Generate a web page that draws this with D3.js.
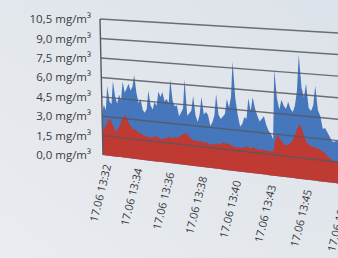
<!DOCTYPE html>
<html>
<head>
<meta charset="utf-8">
<script src="https://cdn.jsdelivr.net/npm/d3@7/dist/d3.min.js"></script>
<style>
  html, body { margin: 0; padding: 0; }
  body { width: 338px; height: 258px; overflow: hidden; }
  text { font-family: "Open Sans", Lato, sans-serif; fill: #3a3a3e; }
</style>
</head>
<body>
<div id="chart"></div>
<script>
// tick labels along the time axis (one label every 16 samples)
var tickLabels = ["17.06 13:32", "17.06 13:34", "17.06 13:36", "17.06 13:38",
                  "17.06 13:40", "17.06 13:43", "17.06 13:45", "17.06 13:47"];
var yTicks = [0, 1.5, 3, 4.5, 6, 7.5, 9, 10.5];

// blue series (upper, spiky)
var dustTotal = [3.2, 3.9, 3.5, 5.4, 4.2, 4.0, 5.8, 4.6, 4.1, 4.8,
                 4.4, 5.8, 5.0, 5.3, 5.7, 5.2, 5.5, 6.4, 5.0, 4.3,
                 4.6, 3.8, 3.6, 3.9, 5.3, 4.2, 3.9, 4.5, 4.2, 5.3,
                 4.9, 5.3, 4.6, 4.8, 4.5, 6.3, 4.7, 4.3, 4.4, 3.6,
                 3.9, 4.2, 6.4, 3.7, 3.9, 4.1, 5.2, 3.8, 3.3, 3.9,
                 5.2, 3.9, 4.1, 3.9, 3.1, 3.4, 3.9, 5.5, 4.0, 3.7,
                 3.9, 4.1, 5.2, 4.6, 5.4, 8.0, 5.3, 4.1, 3.3, 3.5,
                 4.0, 3.9, 5.4, 4.5, 5.5, 4.7, 4.2, 3.8, 4.0, 4.2,
                 3.6, 3.2, 3.0, 2.6, 7.6, 5.6, 4.8, 5.5, 5.1, 4.9,
                 5.4, 4.9, 4.7, 5.2, 6.3, 8.8, 6.5, 5.8, 6.8, 5.1,
                 4.9, 5.3, 6.7, 5.0, 4.6, 3.7, 3.8, 3.5, 3.2, 2.9,
                 2.9, 3.0, 2.8, 2.9, 3.1, 3.0];

// red series (lower)
var dustFine = [1.8, 2.1, 2.4, 2.7, 2.9, 2.6, 2.2, 1.9, 2.1, 2.4,
                2.8, 3.1, 3.3, 3.0, 2.6, 2.4, 2.2, 2.3, 2.1, 2.0,
                2.0, 1.9, 1.8, 1.9, 1.7, 1.8, 1.8, 1.9, 1.9, 1.8,
                1.7, 1.8, 1.8, 1.9, 2.0, 1.9, 1.9, 2.0, 2.0, 2.1,
                2.2, 2.3, 2.4, 2.3, 2.1, 2.0, 1.9, 1.9, 1.85, 1.9,
                1.9, 1.8, 1.9, 1.8, 1.7, 1.8, 1.8, 1.9, 1.8, 1.9,
                2.0, 1.9, 2.0, 1.9, 1.8, 1.8, 1.7, 1.8, 1.7, 1.8,
                1.8, 1.9, 1.8, 1.8, 1.9, 1.8, 1.8, 1.7, 1.8, 1.8,
                1.7, 1.8, 1.7, 1.8, 2.6, 3.0, 2.7, 2.5, 2.3, 2.3,
                2.4, 2.5, 2.8, 3.2, 3.6, 3.9, 3.5, 3.0, 2.6, 2.5,
                2.4, 2.4, 2.3, 2.3, 2.2, 2.1, 2.0, 1.8, 1.7, 1.6,
                1.5, 1.5, 1.4, 1.4, 1.4, 1.4];

var width = 338, height = 258;
var PW = 275, PH = 136;       // flat plot size before the photo perspective
var perSlot = 16;             // samples per tick label
var nSlots = 8;

var svg = d3.select("#chart").append("svg")
    .attr("width", width)
    .attr("height", height);

var defs = svg.append("defs");
var bg = defs.append("linearGradient")
    .attr("id", "bg")
    .attr("x1", 0).attr("y1", 1).attr("x2", 1).attr("y2", 0);
bg.append("stop").attr("offset", 0).style("stop-color", "#e9ecf0");
bg.append("stop").attr("offset", 1).style("stop-color", "#dce2e9");
svg.append("rect").attr("width", width).attr("height", height).attr("fill", "url(#bg)");

var x = d3.scaleLinear().domain([0, perSlot * nSlots]).range([0, PW]);
var y = d3.scaleLinear().domain([0, 10.5]).range([PH, 0]);

// the screen was photographed at an angle: map the flat plot onto this quad
var quad = [[100, 19], [376, 35.2], [378, 188.3], [103, 155]];
var H = squareToQuad(quad);
function proj(u, v) {
    var s = u / PW, t = v / PH;
    var w = H.g * s + H.h * t + 1;
    return [(H.a * s + H.b * t + H.c) / w, (H.d * s + H.e * t + H.f) / w];
}
function squareToQuad(q) {
    var x0 = q[0][0], y0 = q[0][1], x1 = q[1][0], y1 = q[1][1],
        x2 = q[2][0], y2 = q[2][1], x3 = q[3][0], y3 = q[3][1];
    var dx1 = x1 - x2, dx2 = x3 - x2, dx3 = x0 - x1 + x2 - x3;
    var dy1 = y1 - y2, dy2 = y3 - y2, dy3 = y0 - y1 + y2 - y3;
    var den = dx1 * dy2 - dx2 * dy1;
    var g = (dx3 * dy2 - dx2 * dy3) / den;
    var h = (dx1 * dy3 - dx3 * dy1) / den;
    return {
        a: x1 - x0 + g * x1, b: x3 - x0 + h * x3, c: x0,
        d: y1 - y0 + g * y1, e: y3 - y0 + h * y3, f: y0,
        g: g, h: h
    };
}

function areaFor(values) {
    return d3.area()
        .x0(function (d, i) { return proj(x(i), y(0))[0]; })
        .y0(function (d, i) { return proj(x(i), y(0))[1]; })
        .x1(function (d, i) { return proj(x(i), y(d))[0]; })
        .y1(function (d, i) { return proj(x(i), y(d))[1]; })(values);
}

var plot = svg.append("g");

plot.append("path")
    .attr("d", areaFor(dustTotal))
    .attr("fill", "#4677bd");

plot.append("path")
    .attr("d", areaFor(dustFine))
    .attr("fill", "#bf3a33");

// gridlines
plot.selectAll(".grid")
    .data(yTicks.slice(1))
    .enter().append("line")
    .attr("class", "grid")
    .attr("x1", function (d) { return proj(0, y(d))[0]; })
    .attr("y1", function (d) { return proj(0, y(d))[1]; })
    .attr("x2", function (d) { return proj(PW, y(d))[0]; })
    .attr("y2", function (d) { return proj(PW, y(d))[1]; })
    .attr("stroke", "#55585f")
    .attr("stroke-opacity", 0.85)
    .attr("stroke-width", 1.4);

// left axis
var a0 = proj(0, 0), a1 = proj(0, PH);
plot.append("line")
    .attr("x1", a0[0]).attr("y1", a0[1])
    .attr("x2", a1[0]).attr("y2", a1[1])
    .attr("stroke", "#55585f")
    .attr("stroke-width", 1.4);

// y labels
svg.selectAll(".ylab")
    .data(yTicks)
    .enter().append("text")
    .attr("class", "ylab")
    .attr("x", 91)
    .attr("y", function (d) { return proj(0, y(d))[1]; })
    .attr("dy", "0.35em")
    .attr("text-anchor", "end")
    .style("font-size", "11.5px")
    .text(function (d) { return d.toFixed(1).replace(".", ",") + " mg/m\u00b3"; });

// x labels
svg.selectAll(".xlab")
    .data(tickLabels)
    .enter().append("text")
    .attr("class", "xlab")
    .attr("transform", function (d, i) {
        var p = proj(x(i * perSlot) + 5, PH + 9);
        return "translate(" + p[0] + "," + p[1] + ") rotate(-76)";
    })
    .attr("dy", "0.35em")
    .attr("text-anchor", "end")
    .style("font-size", "11px")
    .text(function (d) { return d; });
</script>
</body>
</html>
